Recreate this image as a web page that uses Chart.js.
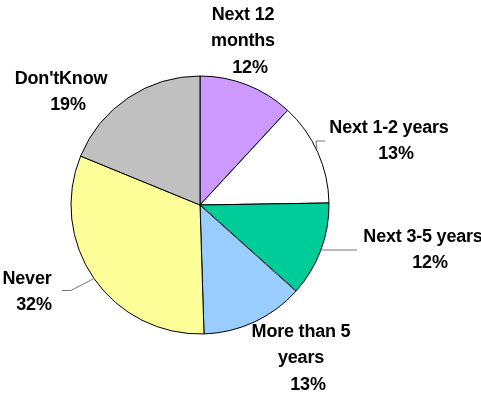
<!DOCTYPE html>
<html>
<head>
<meta charset="utf-8">
<script src="https://cdn.jsdelivr.net/npm/chart.js@4.4.1/dist/chart.umd.min.js"></script>
<style>
  html, body { margin: 0; padding: 0; background: #fff; }
  #wrap { width: 481px; height: 394px; position: relative; }
</style>
</head>
<body>
<div id="wrap"><canvas id="grafico"></canvas></div>
<script>
// dados do gráfico
const categorias = ["Next 12 months", "Next 1-2 years", "Next 3-5 years", "More than 5 years", "Never", "Don'tKnow"];
const valores = [12, 13, 12, 13, 32, 19];
const cores = ["#CC99FF", "#FFFFFF", "#00CC99", "#99CCFF", "#FFFF99", "#C0C0C0"];

// linhas de texto de cada rótulo (nome quebrado + percentual)
const linhasRotulo = [
  ["Next 12", "months"],
  ["Next 1-2 years"],
  ["Next 3-5 years"],
  ["More than 5", "years"],
  ["Never"],
  ["Don'tKnow"],
];

// posição dos rótulos e das linhas guia
const posRotulo = [
  { x: 243, y: 15 },
  { x: 389, y: 128 },
  { x: 423, y: 237 },
  { x: 301, y: 332 },
  { x: 27, y: 279 },
  { x: 61, y: 79 },
];
const guias = [
  null,
  [[325, 141], [316, 141], [317, 149]],
  [[357, 250], [322, 250]],
  null,
  [[62, 290.5], [71, 290.5], [93, 279]],
  null,
];

const rotulosPlugin = {
  id: "rotulos",
  afterDraw(chart) {
    const ctx = chart.ctx;
    ctx.save();

    // linhas guia
    ctx.strokeStyle = "#777";
    ctx.lineWidth = 1;
    guias.forEach((g) => {
      if (!g) return;
      ctx.beginPath();
      ctx.moveTo(g[0][0], g[0][1]);
      for (let i = 1; i < g.length; i++) ctx.lineTo(g[i][0], g[i][1]);
      ctx.stroke();
    });

    ctx.fillStyle = "#000";
    ctx.font = "bold 18px 'Liberation Sans', Arial, sans-serif";
    ctx.letterSpacing = "-0.2px";
    ctx.textAlign = "center";
    ctx.textBaseline = "middle";
    const dados = chart.data.datasets[0].data;
    linhasRotulo.forEach((linhas, i) => {
      const p = posRotulo[i];
      const texto = linhas.concat([dados[i] + "%"]);
      texto.forEach((t, j) => {
        const dx = j === texto.length - 1 ? 7 : 0;
        ctx.fillText(t, p.x + dx, p.y + j * 26.5);
      });
    });
    ctx.restore();
  },
};

new Chart(document.getElementById("grafico"), {
  type: "pie",
  data: {
    labels: categorias,
    datasets: [
      {
        data: valores,
        backgroundColor: cores,
        borderColor: "#000",
        borderWidth: 1,
      },
    ],
  },
  options: {
    responsive: true,
    maintainAspectRatio: false,
    animation: false,
    radius: 129,
    layout: {
      padding: { left: 71, right: 152, top: 76, bottom: 60 },
    },
    plugins: {
      legend: { display: false },
      tooltip: { enabled: false },
    },
  },
  plugins: [rotulosPlugin],
});
</script>
</body>
</html>
